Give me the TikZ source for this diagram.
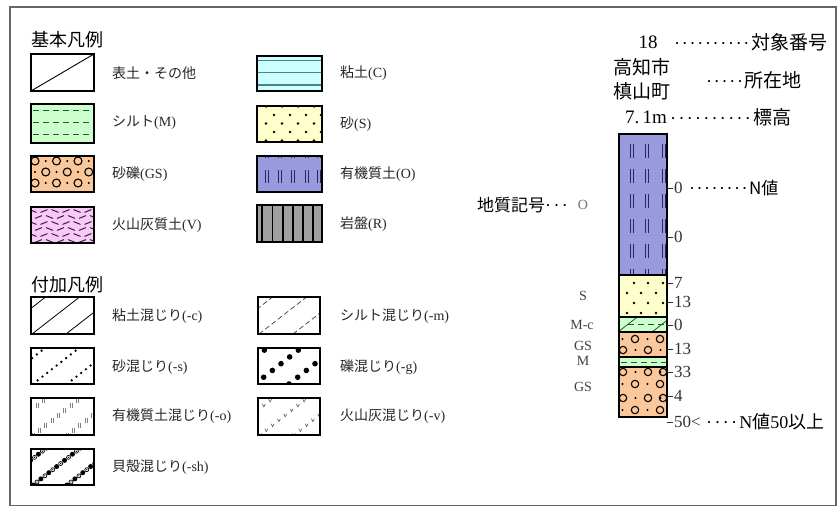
\documentclass[tikz,border=0pt]{standalone}
\usepackage{fontspec}
\setmainfont{Liberation Serif}
\newfontfamily\cjk{Noto Sans CJK JP}
\newcommand\fs[1]{\fontsize{#1}{#1}\selectfont}
% n dots with pitch
\newcommand\dd[2]{\foreach \i in {1,...,#1}{\makebox[#2][l]{\textperiodcentered}}}
\definecolor{cclay}{RGB}{204,255,255}
\definecolor{cclayl}{RGB}{80,130,130}
\definecolor{csilt}{RGB}{204,255,204}
\definecolor{csiltl}{RGB}{30,90,50}
\definecolor{csand}{RGB}{255,255,204}
\definecolor{cgrav}{RGB}{250,200,155}
\definecolor{corg}{RGB}{153,153,221}
\definecolor{corgl}{RGB}{40,40,90}
\definecolor{cvol}{RGB}{250,200,250}
\definecolor{crock}{RGB}{160,160,160}
% diagonal lines: x0 y0 x1 y1 offset style
\newcommand\diaglines[6]{%
  \begin{scope}\clip (#1,#2) rectangle (#3,#4);
  \foreach \k in {-1,0,1,2}{\draw[#6] (#1+#5+34*\k,#4) -- ++(63,-49);}
  \end{scope}}
% marks along diagonals: x0 y0 x1 y1 offset step code
\newcommand\diagmarks[7]{%
  \begin{scope}\clip (#1,#2) rectangle (#3,#4);
  \foreach \k in {-1,0,1,2}{\foreach \t in {0,#6,...,80}{%
    \begin{scope}[shift={(#1+#5+34*\k+0.788*\t,#4-0.616*\t)}]#7\end{scope}}}
  \end{scope}}
\begin{document}
\begin{tikzpicture}[x=1pt,y=-1pt,
  box/.style={draw=black,line width=1.1pt},
  lab/.style={anchor=west,inner sep=0pt,text=black!85,font=\fs{14}},
  head/.style={anchor=west,inner sep=0pt,font=\cjk\fs{18}},
  ann/.style={inner sep=0pt,font=\fs{19}},
  nval/.style={anchor=west,inner sep=0pt,text=black!80,font=\fs{17}},
  gsym/.style={inner sep=0pt,text=black!75,font=\fs{14}},
  tick/.style={line width=0.8pt,black!80},
  circ/.style={line width=1.1pt}]
\useasboundingbox (0,0) rectangle (838,507);
\draw[gray!80!black,line width=1.2pt] (10,7) rectangle (836,505.5);

% ---------------- basic legend
\node[head] (h1) at (31,40) {基本凡例};
% topsoil
\draw[box] (31,54) rectangle (94,91);
\draw[line width=0.9pt] (31,91) -- (94,54);
\node[lab] (l1) at (112,73) {\cjk 表土・その他};
% silt
\fill[csilt] (31,104) rectangle (94,143);
\foreach \y in {110,122,134} \draw[csiltl,line width=0.9pt,dash pattern=on 6pt off 4pt] (33,\y) -- (94,\y);
\draw[box] (31,104) rectangle (94,143);
\node[lab] (l2) at (112,123) {{\cjk シルト}(M)};
% gravel sand
\begin{scope}
\clip (31,156) rectangle (94,192);
\fill[cgrav] (31,156) rectangle (94,192);
\foreach \y in {161,183}{
  \foreach \x in {35,56.5,78}{\draw[circ] (\x,\y) circle (4pt); \fill (\x+10.75,\y) circle (1.2pt);}}
\foreach \y in {172}{
  \foreach \x in {45.75,67.25,88.75}{\draw[circ] (\x,\y) circle (4pt); \fill (\x-10.75,\y) circle (1.2pt);}}
\end{scope}
\draw[box] (31,156) rectangle (94,192);
\node[lab] (l3) at (112,174) {{\cjk 砂礫}(GS)};
% volcanic
\begin{scope}
\clip (31,207) rectangle (94,243);
\fill[cvol] (31,207) rectangle (94,243);
\foreach \r in {0,...,5}{\foreach \c in {0,...,5}{
  \pgfmathsetmacro\sx{33+11*\c+mod(\r,2)*5.5}
  \pgfmathsetmacro\sy{211+6*\r}
  \pgfmathsetmacro\sg{mod(\c+\r,2)==0?1:-1}
  \draw[line width=1pt,black!85] (\sx-3.5,\sy-1.4*\sg) -- (\sx+3.5,\sy+1.4*\sg);}}
\end{scope}
\draw[box] (31,207) rectangle (94,243);
\node[lab] (l4) at (112,225) {{\cjk 火山灰質土}(V)};
% clay
\fill[cclay] (257,56) rectangle (322,91);
\foreach \y in {60.5,72.5,85} \draw[cclayl,line width=1.2pt] (257,\y) -- (322,\y);
\draw[box] (257,56) rectangle (322,91);
\node[lab] (r1) at (340,73) {{\cjk 粘土}(C)};
% sand
\begin{scope}
\clip (257,106) rectangle (322,142);
\fill[csand] (257,106) rectangle (322,142);
\foreach \y in {106.5,123.5,140.5}{\foreach \x in {266,282,298,314}{\fill (\x,\y) circle (1.3pt);}}
\foreach \y in {115,132}{\foreach \x in {274,290,306,321}{\fill (\x,\y) circle (1.3pt);}}
\end{scope}
\draw[box] (257,106) rectangle (322,142);
\node[lab] (r2) at (340,124) {{\cjk 砂}(S)};
% organic
\begin{scope}
\clip (257,156) rectangle (322,192);
\fill[corg] (257,156) rectangle (322,192);
\foreach \y in {145,170}{\foreach \x in {267,280,293,307,319}{
  \draw[corgl,line width=1pt] (\x-1.5,\y) -- (\x-1.5,\y+13) (\x+1.5,\y) -- (\x+1.5,\y+13);}}
\end{scope}
\draw[box] (257,156) rectangle (322,192);
\node[lab] (r3) at (340,174) {{\cjk 有機質土}(O)};
% rock
\fill[crock] (257,205) rectangle (322,242);
\foreach \x in {262,272.5,283,293,303,313} \draw[black,line width=1.5pt] (\x,205) -- (\x,242);
\draw[box] (257,205) rectangle (322,242);
\node[lab] (r4) at (340,224) {{\cjk 岩盤}(R)};

% ---------------- additional legend
\node[head] (h2) at (31,285) {付加凡例};
% -c
\diaglines{31}{297}{94}{334}{1}{line width=0.8pt}
\draw[box] (31,297) rectangle (94,334);
\node[lab] (a1) at (112,316) {{\cjk 粘土混じり}(-c)};
% -s
\diagmarks{31}{348}{94}{384}{2}{6}{\fill (0,0) circle (1.3pt);}
\draw[box] (31,348) rectangle (94,384);
\node[lab] (a2) at (112,367) {{\cjk 砂混じり}(-s)};
% -o
\diagmarks{31}{398}{94}{435}{2}{8}{\draw[gray,line width=0.6pt] (-1,-2.5) -- (-1,2.5) (1,-2.5) -- (1,2.5);}
\draw[box] (31,398) rectangle (94,435);
\node[lab] (a3) at (112,416) {{\cjk 有機質土混じり}(-o)};
% -sh
\diagmarks{31}{449}{94}{485}{2}{10}{\fill (0,0) circle (2.5pt); \draw[line width=0.7pt] (4,-3) circle (2pt); \fill (4,-3) circle (0.7pt);}
\draw[box] (31,449) rectangle (94,485);
\node[lab] (a4) at (112,467) {{\cjk 貝殻混じり}(-sh)};
% -m
\diaglines{258}{297}{320}{334}{1}{line width=0.8pt,gray!60!black,dash pattern=on 5pt off 3pt}
\draw[box] (258,297) rectangle (320,334);
\node[lab] (b1) at (340,316) {{\cjk シルト混じり}(-m)};
% -g
\diagmarks{258}{348}{320}{384}{-3}{11}{\fill (0,0) circle (2.8pt);}
\draw[box] (258,348) rectangle (320,384);
\node[lab] (b2) at (340,367) {{\cjk 礫混じり}(-g)};
% -v
\diagmarks{258}{398}{320}{435}{2}{8}{\draw[gray!70!black,line width=0.6pt] (-1.5,-1.5) -- (0,1.5) -- (1.5,-1.5);}
\draw[box] (258,398) rectangle (320,435);
\node[lab] (b3) at (340,416) {{\cjk 火山灰混じり}(-v)};

% ---------------- boring column
% O layer
\begin{scope}
\clip (619,134) rectangle (667,275);
\fill[corg] (619,134) rectangle (667,275);
\foreach \y in {144,169,194,219,244,269}{\foreach \x in {632,647,663.5}{
  \draw[corgl,line width=0.9pt] (\x-1.5,\y) -- (\x-1.5,\y+14) (\x+1.5,\y) -- (\x+1.5,\y+14);}}
\end{scope}
% S layer
\begin{scope}
\clip (619,275) rectangle (667,317);
\fill[csand] (619,275) rectangle (667,317);
\foreach \y in {283,303}{\foreach \x in {634,648,663}{\fill (\x,\y) circle (1.3pt);}}
\foreach \y in {293,313}{\foreach \x in {627,641,656}{\fill (\x,\y) circle (1.3pt);}}
\end{scope}
% M-c layer
\begin{scope}
\clip (619,317) rectangle (667,332);
\fill[csilt] (619,317) rectangle (667,332);
\draw[csiltl,line width=1pt,dash pattern=on 6pt off 4pt] (628,324.5) -- (667,324.5);
\end{scope}
\diaglines{619}{317}{667}{332}{-1}{line width=0.8pt,csiltl}
% GS upper
\begin{scope}
\clip (619,332) rectangle (667,357);
\fill[cgrav] (619,332) rectangle (667,357);
\foreach \x in {635,660}{\draw[circ] (\x,339) circle (3.7pt); \fill (\x-12.5,339) circle (1.2pt);}
\foreach \x in {623,648}{\draw[circ] (\x,350) circle (3.7pt); \fill (\x+12.5,350) circle (1.2pt);}
\end{scope}
% M layer
\fill[csilt] (619,357) rectangle (667,367);
\draw[csiltl,line width=1pt,dash pattern=on 6pt off 4pt] (621,362) -- (667,362);
% GS lower
\begin{scope}
\clip (619,367) rectangle (667,417);
\fill[cgrav] (619,367) rectangle (667,417);
\foreach \y in {372,398}{\foreach \x in {623,648,663}{\draw[circ] (\x,\y) circle (3.7pt);} \foreach \x in {635.5,660.5}{\fill (\x,\y) circle (1.2pt);}}
\foreach \y in {384,410}{\foreach \x in {635,660}{\draw[circ] (\x,\y) circle (3.7pt); \fill (\x-12.5,\y) circle (1.2pt);}}
\end{scope}
% outlines
\foreach \a/\b in {134/275,275/317,317/332,332/357,357/367,367/417}
  \draw[line width=1.2pt] (619,\a) rectangle (667,\b);
\draw[line width=1.4pt] (619,134) rectangle (667,417);

% N values
\foreach \y/\v/\nm in {188/0/n1,237/0/n2,283/7/n3,302/13/n4,325/0/n5,349/13/n6,372/33/n7,396/4/n8}{
  \draw[tick] (667,\y) -- (673,\y);
  \node[nval] (\nm) at (674,\y) {\v};}
\draw[tick] (667,422) -- (673,422);
\node[nval] (n9) at (674,422) {50<};

% annotations
\node[ann] (num) at (648,42) {18};
\node[ann,anchor=west] (numl) at (674,42) {\fs{18}\dd{10}{7.7pt}{\cjk\fs{19}対象番号}};
\node[ann] (loc1) at (642,67) {\cjk 高知市};
\node[ann] (loc2) at (642,91) {\cjk 槙山町};
\node[ann,anchor=west] (locl) at (706,80) {\fs{18}\dd{5}{7.7pt}{\cjk\fs{19}所在地}};
\node[ann] (elev) at (646,117) {7.\,1m};
\node[ann,anchor=west] (elevl) at (670,117) {\fs{18}\dd{10}{8.3pt}{\cjk\fs{19}標高}};
\node[ann,anchor=west] (nl) at (689,188) {\fs{18}\dd{8}{7.5pt}{\cjk\fs{17}N値}};
\node[ann,anchor=west] (gl) at (477,205) {{\cjk\fs{17}地質記号}\fs{18}\dd{3}{8.3pt}};
\node[ann,anchor=west] (nl2) at (706,422) {\fs{18}\dd{4}{8.3pt}N{\cjk 値}50{\cjk 以上}};

% geological symbols
\node[gsym,text=black!55] (gO) at (583,205) {O};
\node[gsym] (gS) at (583,296) {S};
\node[gsym] (gMc) at (582,325) {M-c};
\node[gsym] (gGS1) at (583,346) {GS};
\node[gsym] (gM) at (583,361) {M};
\node[gsym] (gGS2) at (583,387) {GS};
\end{tikzpicture}
\end{document}
